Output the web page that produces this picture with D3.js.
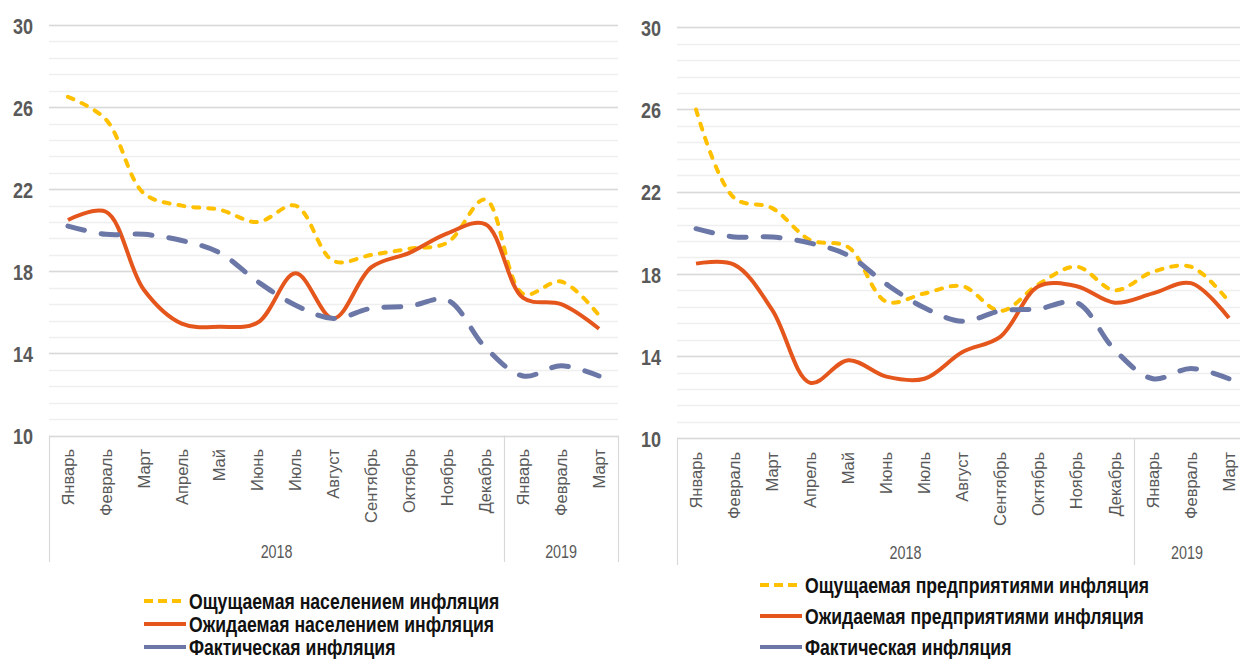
<!DOCTYPE html>
<html>
<head>
<meta charset="utf-8">
<script src="https://cdn.jsdelivr.net/npm/d3@7"></script>
<style>
  html, body { margin: 0; padding: 0; background: #fff; }
  svg { display: block; font-family: 'Liberation Sans', Arial, sans-serif; }
</style>
</head>
<body>
<svg id="chart" width="1240" height="659"></svg>
<script>
// categories
const months = ['Январь', 'Февраль', 'Март', 'Апрель', 'Май', 'Июнь', 'Июль', 'Август',
  'Сентябрь', 'Октябрь', 'Ноябрь', 'Декабрь', 'Январь', 'Февраль', 'Март']
const years = [
  { label: '2018', from: 0, to: 11 },
  { label: '2019', from: 12, to: 14 },
]
const yTicks = [10, 14, 18, 22, 26, 30]

// series, %
const actual = [20.2, 19.8, 19.8, 19.5, 18.9, 17.5, 16.35, 15.7, 16.2, 16.3, 16.6, 14.3, 12.9, 13.4, 12.9]
const feltHouseholds = [26.5, 25.4, 21.8, 21.2, 21.0, 20.4, 21.2, 18.5, 18.8, 19.1, 19.4, 21.5, 16.9, 17.5, 15.85]
const expectedHouseholds = [20.5, 20.9, 17.1, 15.45, 15.3, 15.5, 17.9, 15.7, 18.2, 18.9, 19.85, 20.3, 16.7, 16.4, 15.2]
const feltFirms = [26.0, 21.7, 21.2, 19.65, 19.3, 16.65, 17.05, 17.4, 16.2, 17.5, 18.35, 17.2, 18.1, 18.35, 16.65]
const expectedFirms = [18.5, 18.45, 16.25, 12.7, 13.8, 13.0, 12.9, 14.2, 14.95, 17.4, 17.4, 16.6, 17.05, 17.55, 15.85]

const legendLeft = ['Ощущаемая населением инфляция', 'Ожидаемая населением инфляция', 'Фактическая инфляция']
const legendRight = ['Ощущаемая предприятиями инфляция', 'Ожидаемая предприятиями инфляция', 'Фактическая инфляция']

const styles = {
  felt: { color: '#FFC000', width: 4, dash: '6 9' },
  expected: { color: '#E5561C', width: 4, dash: null },
  actual: { color: '#6B77A6', width: 5, dash: '17 17' },
}

const SQUEEZE = 0.82
const textGray = '#595959'

const svg = d3.select('#chart')

// horizontally narrowed text, like the source picture
function place(sel, x, y, sx = SQUEEZE, rot = 0) {
  sel.attr('transform', `translate(${x},${y}) scale(${sx},1)` + (rot ? ` rotate(${rot})` : ''))
}

function drawPanel(opts) {
  const { left, right, top, bottom, axisBottom, monthTop, yearY, legend } = opts

  const x = d3
    .scaleBand()
    .domain(d3.range(months.length))
    .range([left, right])

  const y = d3.scaleLinear().domain([10, 30]).range([bottom, top])

  const g = svg.append('g')

  // minor grid every 0.8
  g.append('g')
    .selectAll('line')
    .data(d3.range(0, 26).map((i) => 10 + i * 0.8))
    .join('line')
    .attr('x1', left)
    .attr('x2', right)
    .attr('y1', (d) => Math.round(y(d)) + 0.5)
    .attr('y2', (d) => Math.round(y(d)) + 0.5)
    .attr('stroke', '#EFEFEF')
    .attr('stroke-width', 1.5)

  // major grid
  g.append('g')
    .selectAll('line')
    .data(yTicks)
    .join('line')
    .attr('x1', left)
    .attr('x2', right)
    .attr('y1', (d) => Math.round(y(d)) + 0.5)
    .attr('y2', (d) => Math.round(y(d)) + 0.5)
    .attr('stroke', '#D9D9D9')
    .attr('stroke-width', 1.5)

  // y labels
  g.append('g')
    .selectAll('text')
    .data(yTicks)
    .join('text')
    .text((d) => d)
    .attr('text-anchor', 'end')
    .attr('dy', '0.35em')
    .attr('fill', textGray)
    .style('font-size', '22px')
    .style('font-weight', 'bold')
    .each(function (d) {
      place(d3.select(this), left - 16, y(d) + 1)
    })

  // category box lines
  const edges = [left, x(years[1].from), right]
  g.append('g')
    .selectAll('line')
    .data(edges)
    .join('line')
    .attr('x1', (d) => Math.round(d) + 0.5)
    .attr('x2', (d) => Math.round(d) + 0.5)
    .attr('y1', y(10))
    .attr('y2', axisBottom)
    .attr('stroke', '#D9D9D9')
    .attr('stroke-width', 1.2)

  // month labels
  g.append('g')
    .selectAll('text')
    .data(months)
    .join('text')
    .text((d) => d)
    .attr('text-anchor', 'end')
    .attr('dy', '0.35em')
    .attr('fill', textGray)
    .style('font-size', '16.5px')
    .each(function (d, i) {
      place(d3.select(this), x(i) + x.bandwidth() / 2, monthTop, 1, -90)
    })

  // year labels
  g.append('g')
    .selectAll('text')
    .data(years)
    .join('text')
    .text((d) => d.label)
    .attr('text-anchor', 'middle')
    .attr('dy', '0.35em')
    .attr('fill', textGray)
    .style('font-size', '17.5px')
    .each(function (d) {
      const x0 = x(d.from)
      const x1 = Math.min(x(d.to) + x.bandwidth(), opts.visibleRight || 1e9)
      place(d3.select(this), (x0 + x1) / 2, yearY)
    })

  // lines
  const line = d3
    .line()
    .x((d, i) => x(i) + x.bandwidth() / 2)
    .y((d) => y(d))
    .curve(d3.curveCatmullRom)

  const series = opts.series
  g.append('g')
    .selectAll('path')
    .data(series)
    .join('path')
    .attr('d', (d) => line(d.values))
    .attr('fill', 'none')
    .attr('stroke', (d) => d.style.color)
    .attr('stroke-width', (d) => d.style.width)
    .attr('stroke-dasharray', (d) => d.style.dash)
    .attr('stroke-linecap', (d) => (d.style.dash ? 'round' : 'butt'))

  // legend
  const lg = g
    .append('g')
    .selectAll('g')
    .data(series)
    .join('g')
    .attr('transform', (d, i) => `translate(${legend.x},${legend.y + i * legend.step})`)

  lg.append('line')
    .attr('x1', 0)
    .attr('x2', 42)
    .attr('stroke', (d) => d.style.color)
    .attr('stroke-width', 4)
    .attr('stroke-dasharray', (d) => (d.style === styles.felt ? '9 5' : null))

  lg.append('text')
    .text((d) => d.name)
    .attr('dy', '0.35em')
    .attr('fill', '#111')
    .style('font-size', '21.5px')
    .style('font-weight', 'bold')
    .each(function () {
      place(d3.select(this), 45, 0)
    })
}

drawPanel({
  left: 49,
  right: 618,
  top: 25,
  bottom: 435.5,
  axisBottom: 562,
  monthTop: 449,
  yearY: 552,
  legend: { x: 144, y: 601, step: 23 },
  series: [
    { name: legendLeft[0], values: feltHouseholds, style: styles.felt },
    { name: legendLeft[1], values: expectedHouseholds, style: styles.expected },
    { name: legendLeft[2], values: actual, style: styles.actual },
  ],
})

drawPanel({
  left: 677,
  right: 1248,
  top: 27.3,
  bottom: 438.3,
  axisBottom: 565,
  monthTop: 452,
  yearY: 553,
  visibleRight: 1240,
  legend: { x: 760, y: 585, step: 31 },
  series: [
    { name: legendRight[0], values: feltFirms, style: styles.felt },
    { name: legendRight[1], values: expectedFirms, style: styles.expected },
    { name: legendRight[2], values: actual, style: styles.actual },
  ],
})
</script>
</body>
</html>
